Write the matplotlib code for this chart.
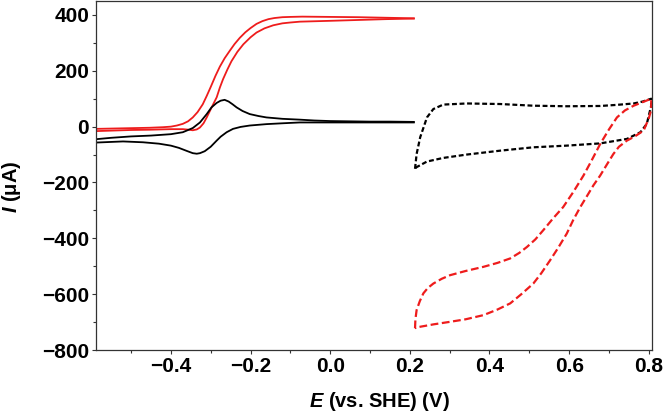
import matplotlib
matplotlib.use("Agg")
import matplotlib.pyplot as plt
from matplotlib.ticker import MultipleLocator

plt.rcParams["font.family"] = ["Liberation Sans", "DejaVu Sans"]
plt.rcParams["font.weight"] = "bold"
plt.rcParams["mathtext.fontset"] = "custom"
plt.rcParams["mathtext.it"] = "Liberation Sans:italic:bold"
plt.rcParams["mathtext.rm"] = "Liberation Sans:bold"

# red solid CV, two sweeps
red_a_E = [-0.588, -0.52, -0.453, -0.42, -0.40, -0.385, -0.37, -0.357, -0.345, -0.333,
           -0.32, -0.31, -0.30, -0.288, -0.277, -0.265, -0.252, -0.24, -0.227, -0.213,
           -0.20, -0.185, -0.17, -0.155, -0.14, -0.12, -0.10, -0.07, 0.0, 0.07,
           0.14, 0.21]
red_a_I = [-8, -6, -4, -2, 0, 4, 10, 19, 33, 52,
           80, 110, 142, 182, 215, 245, 272, 296, 318, 338,
           353, 368, 378, 385, 389, 392, 393, 394, 393, 392,
           390, 388]
red_b_E = [-0.588, -0.50, -0.453, -0.40, -0.37, -0.355, -0.345, -0.335, -0.327, -0.318,
           -0.31, -0.298, -0.285, -0.277, -0.269, -0.258, -0.248, -0.233, -0.218, -0.20,
           -0.185, -0.165, -0.143, -0.12, -0.10, -0.076, 0.0, 0.07, 0.14, 0.21]
red_b_I = [-16, -12, -11, -9, -9, -11, -13, -10, -3, 12,
           33, 68, 105, 140, 170, 205, 234, 268, 295, 320,
           337, 352, 363, 370, 373, 376, 379, 382, 385, 387]

# black solid CV
blk_fwd_E = [-0.588, -0.55, -0.50, -0.45, -0.40, -0.37, -0.345, -0.327, -0.31, -0.298,
             -0.285, -0.275, -0.265, -0.255, -0.245, -0.235, -0.22, -0.202, -0.18, -0.16,
             -0.12, -0.076, -0.04, 0.0, 0.05, 0.10, 0.15, 0.21]
blk_fwd_I = [-45, -40, -35, -32, -27, -20, -5, 15, 45, 69,
             85, 93, 96, 90, 80, 69, 56, 45, 38, 33,
             28, 25, 22, 20, 19, 18, 18, 17]
blk_rev_E = [0.21, 0.15, 0.10, 0.05, 0.0, -0.076, -0.12, -0.16, -0.202, -0.225,
             -0.244, -0.26, -0.275, -0.285, -0.30, -0.315, -0.327, -0.335, -0.345, -0.36,
             -0.38, -0.40, -0.43, -0.47, -0.52, -0.588]
blk_rev_I = [15, 15, 15, 15, 15, 15, 12, 9, 4, -1,
             -8, -20, -36, -50, -72, -88, -95, -97, -95, -87,
             -76, -68, -61, -56, -53, -57]

# black dashed loop
bdash_E = [0.213, 0.217, 0.226, 0.243, 0.259, 0.284, 0.343, 0.427, 0.51, 0.594,
           0.678, 0.72, 0.762, 0.785, 0.806,
           0.806, 0.795, 0.779, 0.745, 0.678, 0.594, 0.51, 0.427, 0.343, 0.284,
           0.243, 0.217, 0.213]
bdash_I = [-151, -98, -38, 33, 63, 79, 83, 81, 75, 73,
           74, 78, 83, 90, 100,
           75, 10, -20, -44, -60, -68, -74, -86, -100, -112,
           -125, -145, -151]

# red dashed loop
rdash_E = [0.213, 0.214, 0.217, 0.225, 0.234, 0.245, 0.259, 0.28, 0.301, 0.34,
           0.385, 0.42, 0.452, 0.475, 0.494, 0.515, 0.535, 0.56, 0.585, 0.61,
           0.636, 0.655, 0.678, 0.70, 0.72, 0.74, 0.762, 0.785, 0.806,
           0.806, 0.80, 0.787, 0.765, 0.745, 0.725, 0.711, 0.695, 0.678, 0.661,
           0.645, 0.628, 0.61, 0.594, 0.572, 0.552, 0.53, 0.51, 0.48, 0.452,
           0.42, 0.385, 0.34, 0.301, 0.26, 0.217, 0.213]
rdash_I = [-722, -690, -657, -625, -597, -578, -562, -545, -532, -517,
           -502, -488, -472, -452, -431, -404, -371, -328, -288, -235,
           -175, -125, -62, -10, 33, 58, 75, 88, 100,
           60, 30, -14, -35, -50, -72, -98, -135, -175, -210,
           -248, -288, -335, -383, -435, -479, -525, -562, -600, -633,
           -655, -675, -690, -699, -708, -719, -722]

RED = "#ee1c1c"

fig = plt.figure(figsize=(6.63, 4.15), dpi=100)
ax = fig.add_axes([0.1448, 0.1566, 0.8386, 0.8410])

ax.plot(red_a_E, red_a_I, color=RED, lw=1.3)
ax.plot(red_b_E, red_b_I, color=RED, lw=1.3)
ax.plot(blk_fwd_E, blk_fwd_I, color="black", lw=1.3)
ax.plot(blk_rev_E, blk_rev_I, color="black", lw=1.3)
ax.plot(bdash_E, bdash_I, color="black", lw=1.6, linestyle=(0, (2.2, 1.2)))
ax.plot(rdash_E, rdash_I, color=RED, lw=1.6, linestyle=(0, (3.5, 1.6)))

ax.set_xlim(-0.588, 0.808)
ax.set_ylim(-800, 450)
ax.xaxis.set_minor_locator(MultipleLocator(0.1))
ax.yaxis.set_minor_locator(MultipleLocator(100))
ax.set_xticks([-0.4, -0.2, 0.0, 0.2, 0.4, 0.6, 0.8])
ax.set_xticklabels(["\u22120.4", "\u22120.2", "0.0", "0.2", "0.4", "0.6", "0.8"])
ax.set_yticks([-800, -600, -400, -200, 0, 200, 400])
ax.set_yticklabels(["\u2212800", "\u2212600", "\u2212400", "\u2212200", "0", "200", "400"])

for s in ax.spines.values():
    s.set_color("#333333")
    s.set_linewidth(0.9)
ax.tick_params(which="major", direction="out", length=3, width=0.8,
               color="#333333", labelsize=15, pad=2)
ax.tick_params(which="minor", direction="out", length=2, width=0.8,
               color="#333333")
for lab in ax.get_xticklabels() + ax.get_yticklabels():
    lab.set_fontweight("bold")

ax.set_xlabel(r"$E$ (vs. SHE) (V)", fontsize=14.5, fontweight="bold")
ax.set_ylabel(r"$I$ (μA)", fontsize=14.5, fontweight="bold")
ax.xaxis.set_label_coords(0.51, -0.115)
ax.yaxis.set_label_coords(-0.131, 0.467)

fig.savefig("out.png", dpi=100)
